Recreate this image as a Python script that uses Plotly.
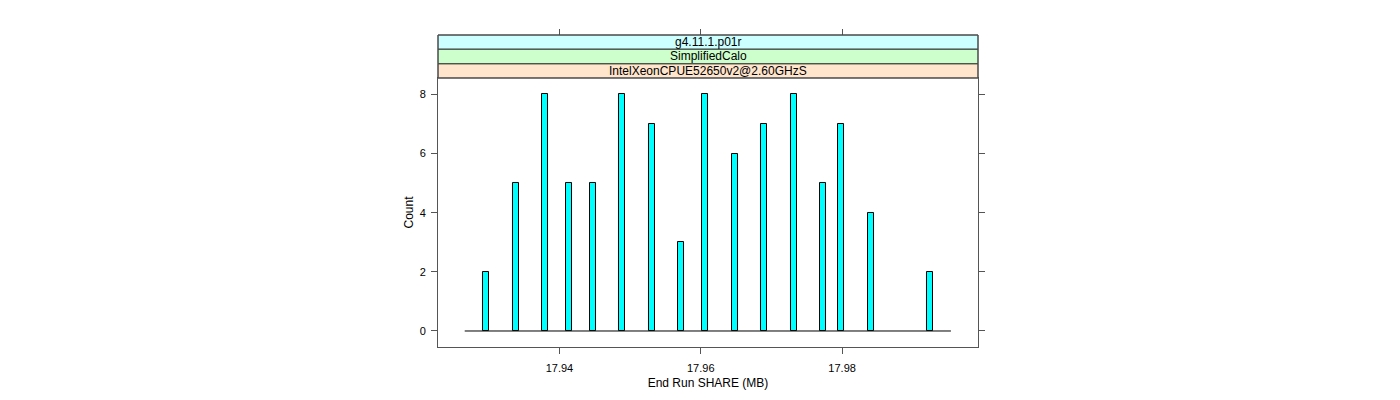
import plotly.graph_objects as go

# ---- data ----
share_mb = [17.92964, 17.93386, 17.93796, 17.94136, 17.94471, 17.94889, 17.95306,
            17.95726, 17.96060, 17.96481, 17.96895, 17.97320, 17.97736, 17.97990,
            17.98409, 17.99247]
counts = [2, 5, 8, 5, 5, 8, 7, 3, 8, 6, 7, 8, 5, 7, 4, 2]
bin_width = 0.00085
bins_lo = 17.9266
bins_hi = 17.9954
x_ticks = [17.94, 17.96, 17.98]
x_ticklabels = ["17.94", "17.96", "17.98"]
y_ticks = [0, 2, 4, 6, 8]
strip_labels = ["IntelXeonCPUE52650v2@2.60GHzS", "SimplifiedCalo", "g4.11.1.p01r"]
strip_colors = ["#ffe5cc", "#ccffcc", "#ccffff"]

x_range = [17.92282, 17.99923]
y_range = [-0.541, 8.553]

FONT = "Liberation Sans, Arial, sans-serif"
AX = "#555555"

fig = go.Figure()
fig.add_trace(go.Scatter(x=[bins_lo, bins_hi], y=[0, 0], mode="lines",
                         line=dict(color="black", width=1), hoverinfo="skip",
                         showlegend=False))
fig.add_trace(go.Bar(x=share_mb, y=counts, width=bin_width,
                     marker=dict(color="#00ffff", line=dict(color="black", width=1)),
                     showlegend=False))
# invisible trace to carry the top tick axis
fig.add_trace(go.Scatter(x=[x_range[0]], y=[0], xaxis="x2", mode="markers",
                         marker=dict(opacity=0), hoverinfo="skip", showlegend=False))

panel_top = 0.8622
strip_bounds = [panel_top, 0.908, 0.955, 1.0]
for i, (lab, col) in enumerate(zip(strip_labels, strip_colors)):
    y0, y1 = strip_bounds[i], strip_bounds[i + 1]
    fig.add_shape(type="rect", xref="paper", yref="paper", x0=0, x1=1, y0=y0, y1=y1,
                  fillcolor=col, line=dict(color="#333333", width=1), layer="above")
    fig.add_annotation(xref="paper", yref="paper", x=0.5, y=(y0 + y1) / 2, text=lab,
                       showarrow=False, font=dict(family=FONT, size=12, color="black"),
                       xanchor="center", yanchor="middle")
# outer strip border in gray
fig.add_shape(type="rect", xref="paper", yref="paper", x0=0, x1=1, y0=panel_top, y1=1,
              line=dict(color=AX, width=1), layer="above")

fig.update_layout(
    width=1400, height=400,
    margin=dict(l=430, r=430, t=27, b=61),
    paper_bgcolor="white", plot_bgcolor="white",
    bargap=0,
    font=dict(family=FONT, size=11, color="black"),
    xaxis=dict(range=x_range, tickvals=x_ticks, ticktext=x_ticklabels,
               ticks="outside", ticklen=6, tickcolor=AX, showline=True, linecolor=AX,
               mirror=True, showgrid=False, zeroline=False, ticklabelstandoff=5,
               title=dict(text="End Run SHARE (MB)", font=dict(size=12), standoff=5),
               tickfont=dict(size=11)),
    xaxis2=dict(range=x_range, tickvals=x_ticks, overlaying="x", side="top",
                anchor="free", position=1, ticks="outside", ticklen=6, tickcolor=AX,
                showticklabels=False, showline=False, showgrid=False, zeroline=False),
    yaxis=dict(range=y_range, domain=[0, panel_top], tickvals=y_ticks,
               ticks="outside", ticklen=6, tickcolor=AX, showline=True, linecolor=AX,
               mirror="ticks", showgrid=False, zeroline=False, ticklabelstandoff=3,
               title=dict(text="Count", font=dict(size=12), standoff=3),
               tickfont=dict(size=11)),
)

fig.write_html("out.html")
